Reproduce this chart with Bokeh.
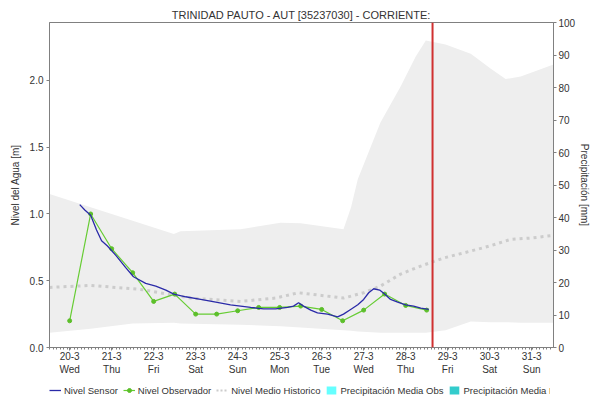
import numpy as np
from bokeh.plotting import figure
from bokeh.layouts import column
from bokeh.models import (Range1d, LinearAxis, FixedTicker, Span, Legend, LegendItem,
                          NumeralTickFormatter)
from bokeh.embed import file_html
from bokeh.resources import INLINE

# ---------------- data (x in days of March) ----------------
tick_days = [20, 21, 22, 23, 24, 25, 26, 27, 28, 29, 30, 31]
tick_dates = ["20-3", "21-3", "22-3", "23-3", "24-3", "25-3", "26-3", "27-3", "28-3", "29-3", "30-3", "31-3"]
tick_wdays = ["Wed", "Thu", "Fri", "Sat", "Sun", "Mon", "Tue", "Wed", "Thu", "Fri", "Sat", "Sun"]

sensor_t = [20.24, 20.36, 20.5, 20.64, 20.76, 20.9, 21.1, 21.33, 21.52, 21.81, 22.05, 22.29,
            22.48, 22.76, 23.12, 23.48, 23.83, 24.07, 24.31, 24.62, 24.9, 25.19, 25.33, 25.45,
            25.57, 25.74, 25.9, 26.14, 26.38, 26.52, 26.69, 26.86, 27.0, 27.12, 27.24, 27.38,
            27.5, 27.64, 27.81, 28.0, 28.19, 28.36, 28.55]
sensor_v = [1.07, 1.03, 0.99, 0.88, 0.80, 0.76, 0.69, 0.60, 0.53, 0.48, 0.46, 0.43,
            0.40, 0.38, 0.36, 0.34, 0.32, 0.31, 0.30, 0.29, 0.29, 0.30, 0.31, 0.335,
            0.31, 0.28, 0.26, 0.25, 0.23, 0.25, 0.285, 0.32, 0.36, 0.41, 0.44, 0.43,
            0.40, 0.36, 0.34, 0.32, 0.31, 0.295, 0.285]

obs_t = [20.0, 20.5, 21.0, 21.5, 22.0, 22.5, 23.0, 23.5, 24.0, 24.5, 25.0, 25.5,
         26.0, 26.5, 27.0, 27.5, 28.0, 28.5]
obs_v = [0.20, 1.00, 0.74, 0.56, 0.345, 0.40, 0.25, 0.25, 0.275, 0.30, 0.30, 0.31,
         0.285, 0.20, 0.28, 0.40, 0.315, 0.28]

hist_t = [19.52, 20.5, 21.69, 22.88, 24.07, 24.9, 25.45, 26.0, 26.52, 27.0, 27.4, 27.88,
          28.36, 28.9, 29.4, 30.0, 30.5, 31.0, 31.52]
hist_v = [0.45, 0.465, 0.435, 0.37, 0.345, 0.37, 0.41, 0.39, 0.37, 0.41, 0.46, 0.55,
          0.61, 0.67, 0.71, 0.76, 0.81, 0.82, 0.84]

band_t = [19.52, 20.5, 21.5, 22.48, 22.64, 24.07, 25.02, 25.5, 26.52, 26.7, 26.86, 27.4, 27.88,
          28.24, 28.48, 28.95, 29.55, 30.02, 30.38, 30.74, 31.52]
band_hi = [1.15, 1.05, 0.95, 0.85, 0.87, 0.885, 0.935, 0.93, 0.885, 1.05, 1.26, 1.685, 1.955,
           2.18, 2.30, 2.27, 2.20, 2.09, 2.01, 2.03, 2.12]
band_lo = [0.11, 0.14, 0.18, 0.185, 0.18, 0.17, 0.16, 0.15, 0.13, 0.125, 0.12, 0.11, 0.11,
           0.11, 0.11, 0.13, 0.195, 0.19, 0.19, 0.185, 0.185]

now_t = 28.64

x_start, x_end = 19.52, 31.52
lvl_max = 2.434
prec_max = 100
left_ticks = [0.0, 0.5, 1.0, 1.5, 2.0]
right_ticks = [0, 10, 20, 30, 40, 50, 60, 70, 80, 90, 100]

legend_labels = ["Nivel Sensor", "Nivel Observador", "Nivel Medio Historico",
                 "Precipitación Media Obs", "Precipitación Media Pro"]

# colours
C_SEN = "#2a2aa8"
C_OBS = "#66cc33"
C_OBS_M = "#5cbf2a"
C_HIST = "#cccccc"
C_POBS = "#66ffff"
C_PPRO = "#33cccc"

# ---------------- main figure ----------------
FONT = "Liberation Sans"
p = figure(frame_width=504, frame_height=325, output_backend="svg", toolbar_location=None,
           x_range=Range1d(x_start, x_end), y_range=Range1d(0, lvl_max),
           min_border_left=49, min_border_right=20, min_border_top=22, min_border_bottom=34,
           x_axis_type=None, y_axis_type=None)
p.title.text = "TRINIDAD PAUTO - AUT [35237030] - CORRIENTE:"
p.title.align = "center"
p.title.text_font = FONT
p.title.text_font_size = "11px"
p.title.text_font_style = "normal"
p.title.text_color = "#333333"
p.title.standoff = 3
p.outline_line_color = "#808080"
p.background_fill_color = "white"

p.extra_y_ranges = {"prec": Range1d(0, prec_max)}

minor = list(np.arange(x_start, x_end, 1 / 12))
xaxis = LinearAxis(ticker=FixedTicker(ticks=tick_days, minor_ticks=minor))
xaxis.major_label_overrides = {d: f"{a}\n{b}" for d, a, b in zip(tick_days, tick_dates, tick_wdays)}
p.add_layout(xaxis, "below")

yaxis = LinearAxis(ticker=FixedTicker(ticks=left_ticks), axis_label="Nivel del Agua [m]")
yaxis.formatter = NumeralTickFormatter(format="0.0")
p.add_layout(yaxis, "left")

raxis = LinearAxis(y_range_name="prec", ticker=FixedTicker(ticks=right_ticks),
                   axis_label="Precipitación [mm]")
p.add_layout(raxis, "right")

for ax in (xaxis, yaxis, raxis):
    ax.axis_line_color = "#808080"
    ax.major_tick_line_color = "#808080"
    ax.minor_tick_line_color = "#808080"
    ax.major_tick_in = 0
    ax.major_tick_out = 3
    ax.minor_tick_in = 0
    ax.minor_tick_out = 2
    ax.major_label_text_font = FONT
    ax.major_label_text_font_size = "10px"
    ax.major_label_text_color = "#333333"
    ax.major_label_standoff = 3
    ax.axis_label_text_font = FONT
    ax.axis_label_text_font_size = "10px"
    ax.axis_label_text_font_style = "normal"
    ax.axis_label_text_color = "#333333"
    ax.axis_label_standoff = 6
yaxis.minor_tick_out = 0
raxis.minor_tick_out = 0
raxis.major_label_standoff = 2
raxis.axis_label_standoff = 1
xaxis.major_label_standoff = 0
xaxis.axis_label_standoff = 0

p.xgrid.ticker = FixedTicker(ticks=tick_days)
p.ygrid.ticker = FixedTicker(ticks=left_ticks)
for g in (p.xgrid, p.ygrid):
    g.grid_line_color = "#c0c0c0"
    g.grid_line_dash = "2 2"
    g.grid_line_width = 1

p.varea(x=band_t, y1=band_lo, y2=band_hi, fill_color="#eeeeee", level="underlay")
p.line(hist_t, hist_v, line_color=C_HIST, line_width=3, line_dash="3 4")
p.line(obs_t, obs_v, line_color=C_OBS, line_width=1.2)
p.scatter(obs_t, obs_v, marker="circle", size=4, fill_color=C_OBS_M, line_color=C_OBS_M)
p.line(sensor_t, sensor_v, line_color=C_SEN, line_width=1.3)
p.add_layout(Span(location=now_t, dimension="height", line_color="#d03030", line_width=2))

# ---------------- legend strip ----------------
# key renderers use the real series, kept out of view by the strip's y range
q = figure(width=590, height=18, output_backend="svg", toolbar_location=None,
           x_range=Range1d(x_start, x_end), y_range=Range1d(5, 6),
           min_border_left=0, min_border_right=0, min_border_top=0, min_border_bottom=0,
           x_axis_type=None, y_axis_type=None)
q.outline_line_color = None
q.xgrid.visible = False
q.ygrid.visible = False
k_sen = q.line(sensor_t, sensor_v, line_color=C_SEN, line_width=1.3)
k_obs = q.line(obs_t, obs_v, line_color=C_OBS, line_width=1.2)
k_obs_m = q.scatter(obs_t, obs_v, marker="circle", size=4, fill_color=C_OBS_M, line_color=C_OBS_M)
k_hist = q.line(hist_t, hist_v, line_color=C_HIST, line_width=2, line_dash="2 2")
k_pobs = q.vbar(x=obs_t, top=obs_v, width=0.4, fill_color=C_POBS, line_color=None)
k_ppro = q.vbar(x=obs_t, top=obs_v, width=0.4, fill_color=C_PPRO, line_color=None)

legend = Legend(items=[
    LegendItem(label=legend_labels[0], renderers=[k_sen]),
    LegendItem(label=legend_labels[1], renderers=[k_obs, k_obs_m]),
    LegendItem(label=legend_labels[2], renderers=[k_hist]),
    LegendItem(label=legend_labels[3], renderers=[k_pobs]),
    LegendItem(label=legend_labels[4], renderers=[k_ppro]),
], orientation="horizontal", location=(0, 3))
legend.label_text_font = FONT
legend.label_text_font_size = "9.5px"
legend.label_text_color = "#333333"
legend.glyph_width = 12
legend.glyph_height = 10
legend.label_standoff = 3
legend.spacing = 5
legend.padding = 0
legend.margin = 0
legend.border_line_color = None
legend.background_fill_alpha = 0
legend.label_height = 12
q.add_layout(legend, "center")

layout = column(p, q, spacing=0)
open("out.html", "w").write(file_html(layout, INLINE))
